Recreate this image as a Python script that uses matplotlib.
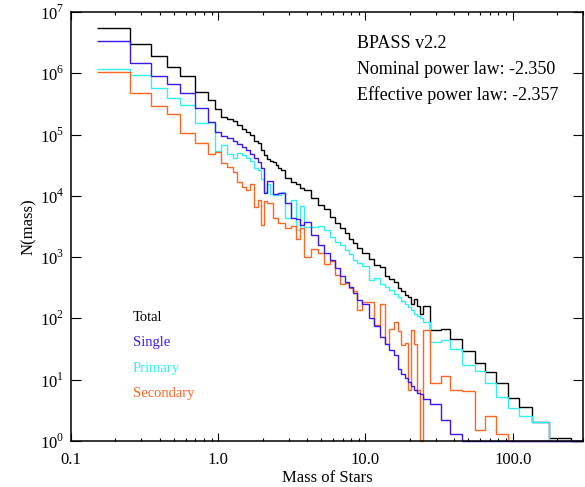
import numpy as np
import matplotlib
matplotlib.use('Agg')
import matplotlib.pyplot as plt
from matplotlib.ticker import NullLocator, NullFormatter

plt.rcParams['font.family'] = 'Liberation Serif'
plt.rcParams['mathtext.fontset'] = 'custom'
plt.rcParams['mathtext.rm'] = 'Liberation Serif'

# mass bin edges (Msun)
edges = [0.15, 0.25, 0.35, 0.45, 0.55, 0.7, 0.85, 0.95, 1.05, 1.15, 1.25, 1.35,
         1.45, 1.55, 1.65, 1.75, 1.85, 1.95, 2.05, 2.15, 2.25, 2.35, 2.45, 2.55,
         2.65, 2.85, 3.1, 3.35, 3.6, 3.85, 4.25, 4.75, 5.25, 5.75, 6.25, 6.75,
         7.25, 7.75, 8.25, 8.75, 9.5, 10.5, 11.5, 12.5, 13.5, 14.5, 15.5, 16.5,
         17.5, 18.5, 19.5, 20.5, 21.5, 22.5, 23.5, 24.5, 27.5, 32.5, 37.5, 45,
         55, 65, 77.5, 92.5, 110, 135, 175, 250, 300]

# N(mass) per bin
total = [5.5e6, 2.95e6, 1.9e6, 1.29e6, 8.9e5, 5.0e5, 3.7e5, 2.6e5, 1.95e5, 1.78e5,
         1.66e5, 1.45e5, 1.23e5, 1.10e5, 9.8e4, 7.9e4, 7.2e4, 5.6e4, 4.7e4, 4.0e4,
         3.7e4, 3.55e4, 3.2e4, 2.9e4, 2.6e4, 1.95e4, 1.66e4, 1.55e4, 1.32e4, 1.26e4,
         9100, 7100, 6000, 4600, 3600, 2950, 2450, 2000, 1700, 1410,
         1170, 930, 740, 690, 500, 440, 390, 310, 280, 245,
         220, 175, 210, 160, 120, 158, 65, 68, 46, 29,
         18.6, 13.5, 8.7, 5.1, 3.6, 2.07, 1.13, 0]

single = [3.35e6, 1.45e6, 9.2e5, 6.8e5, 4.8e5, 2.7e5, 1.62e5, 1.12e5, 9.5e4, 8.7e4,
          7.9e4, 7.1e4, 6.3e4, 5.5e4, 4.9e4, 4.2e4, 3.6e4, 2.8e4, 1.12e4, 1.74e4,
          1.74e4, 1.07e4, 1.07e4, 1.12e4, 1.12e4, 7600, 4300, 4200, 3300, 3800,
          2300, 1580, 1150, 890, 660, 500, 400, 330, 257, 200,
          170, 100, 74, 50, 38, 30, 25, 15, 12.6, 10.5,
          9.1, 7.9, 6.9, 6.0, 5.8, 4.9, 4.0, 2.2, 1.3, 0,
          0, 0, 0, 0, 0, 0, 0, 0]

primary = [1.17e6, 9.3e5, 5.7e5, 4.0e5, 3.07e5, 1.56e5, 1.62e5, 5.4e4, 6.8e4, 4.9e4,
           4.1e4, 5.0e4, 4.6e4, 4.2e4, 3.7e4, 2.8e4, 2.6e4, 1.86e4, 1.15e4, 1.55e4,
           1.07e4, 1.05e4, 1.05e4, 1.05e4, 1.17e4, 4300, 8700, 2750, 6800, 3160,
           3100, 3240, 2750, 2140, 1780, 1550, 1290, 1120, 910, 790,
           710, 430, 450, 370, 330, 290, 250, 224, 195, 174,
           155, 138, 120, 110, 100, 89, 42, 45, 32, 17.4,
           14.1, 8.9, 5.2, 3.4, 2.6, 2.07, 0, 0]

secondary = [1.06e6, 4.7e5, 2.9e5, 2.14e5, 1.07e5, 7.2e4, 4.8e4, 5.1e4, 3.5e4, 3.0e4,
             2.45e4, 1.7e4, 1.38e4, 1.26e4, 1.58e4, 6600, 8500, 3300, 8300, 7600,
             7600, 4300, 4300, 3600, 3550, 2950, 3240, 2000, 2950, 1000,
             1350, 1150, 780, 850, 510, 370, 380, 316, 280, 135,
             186, 182, 79, 170, 38, 66, 89, 62, 37, 40,
             6.8, 65, 38, 6.8, 0, 65, 8.7, 11.5, 6.8, 6.5,
             1.5, 2.6, 1.3, 0, 0, 0, 0, 0]

names = ['Total', 'Single', 'Primary', 'Secondary']
colors = ['black', '#3a16f0', '#2ef0f8', '#ff6420']

fig = plt.figure(figsize=(5.85, 4.87), dpi=100)
ax = fig.add_axes([71/585, 1 - 441/487, 512/585, 429/487])

# zero bins sit on the bottom axis, like the original plot
for vals, col in [(total, colors[0]), (primary, colors[2]),
                  (secondary, colors[3]), (single, colors[1])]:
    ax.stairs(np.clip(vals, 1, None), edges, baseline=None, color=col,
              lw=1.0, clip_on=False)

ax.set_xscale('log')
ax.set_yscale('log')
ax.set_xlim(0.1, 300)
ax.set_ylim(1, 1e7)

ax.set_xticks([0.1, 1, 10, 100])
ax.set_xticklabels(['0.1', '1.0', '10.0', '100.0'])
ax.xaxis.set_minor_formatter(NullFormatter())
ax.set_yticks([10.0**k for k in range(8)])
ax.set_yticklabels([r'$10^{%d}$' % k for k in range(8)])
ax.yaxis.set_minor_locator(NullLocator())

ax.tick_params(which='both', direction='in', top=True, right=True, width=0.8,
               labelsize=12)
ax.tick_params(axis='x', which='major', length=6, pad=8)
ax.tick_params(axis='x', which='minor', length=2.5)
ax.tick_params(axis='y', which='major', length=7.2, pad=5)
for s in ax.spines.values():
    s.set_linewidth(1.1)

ax.set_xlabel('Mass of Stars', fontsize=12, labelpad=1)
ax.set_ylabel('N(mass)', fontsize=12, labelpad=2)

for i, (nm, col) in enumerate(zip(names, colors)):
    ax.text(0.121, 0.289 - i * 0.0597, nm, color=col, fontsize=10.5,
            transform=ax.transAxes, va='center', ha='left')

ax.text(0.558, 0.927, 'BPASS v2.2', fontsize=13, transform=ax.transAxes, va='center')
ax.text(0.558, 0.867, 'Nominal power law: -2.350', fontsize=13,
        transform=ax.transAxes, va='center')
ax.text(0.558, 0.807, 'Effective power law: -2.357', fontsize=13,
        transform=ax.transAxes, va='center')

fig.savefig('out.png', dpi=100)
